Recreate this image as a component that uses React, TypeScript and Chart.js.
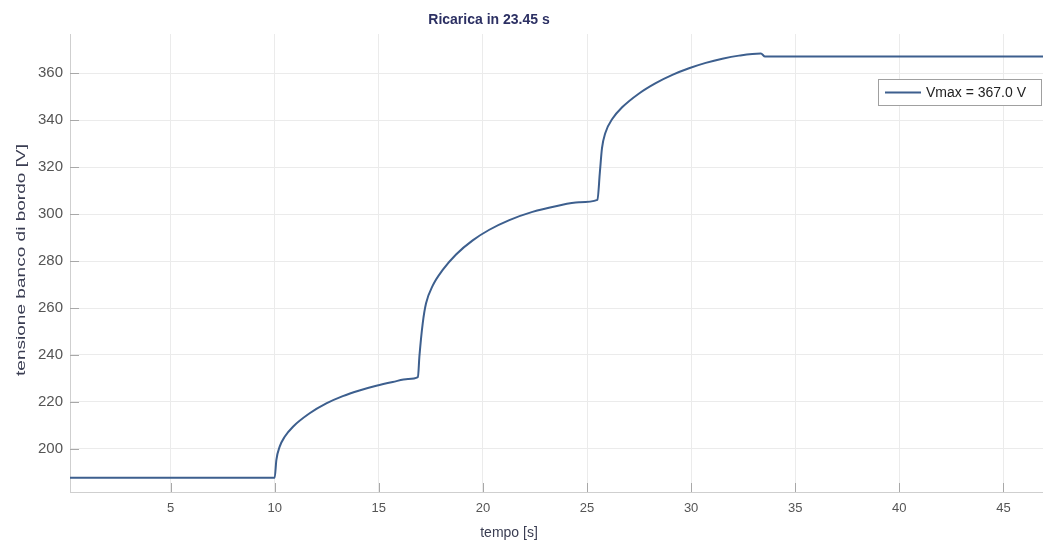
import React, { useEffect, useRef } from 'react';
import { Chart, registerables } from 'chart.js';

Chart.register(...registerables);

// ---- data ----
const timeS = [
  0, 10.0, 10.08, 10.24, 10.48, 10.88, 11.68, 12.48, 13.27, 14.07, 14.88, 15.67, 16.4, 16.88,
  16.95, 17.11, 17.27, 17.59, 18.07, 18.71, 19.51, 20.31, 21.27, 22.38, 23.5, 24.62, 25.5,
  25.62, 25.72, 25.88, 26.22, 26.7, 27.5, 28.3, 29.1, 29.9, 30.7, 31.5, 32.3, 33.35, 33.55, 46.9,
];
const voltageV = [
  187.8, 187.8, 195.3, 201.0, 205.2, 209.5, 215.2, 219.4, 222.5, 224.9, 226.9, 228.5, 229.8, 230.6,
  239.3, 253.5, 262.0, 269.5, 276.2, 282.8, 288.8, 293.3, 297.4, 300.9, 303.3, 305.0, 306.0,
  318.0, 328.0, 334.5, 340.5, 345.5, 351.3, 355.7, 359.2, 362.0, 364.3, 366.1, 367.4, 368.3, 367.0, 367.0,
];
const xTickValues = [5, 10, 15, 20, 25, 30, 35, 40, 45];
const yTickValues = [200, 220, 240, 260, 280, 300, 320, 340, 360];
const xRange = [0.17, 46.9];
const yRange = [181.7, 376.6];

const chartTitle = 'Ricarica in 23.45 s';
const xLabel = 'tempo [s]';
const yLabel = 'tensione banco di bordo [V]';
const legendLabel = 'Vmax = 367.0 V';

const FONT = '"Liberation Sans", Arial, Helvetica, sans-serif';
const LINE_COLOR = '#3d5f8e';

const decorPlugin = {
  id: 'decor',
  beforeDatasetsDraw(chart: any) {
    const { ctx, chartArea } = chart;
    const xs = chart.scales.x;
    const ys = chart.scales.y;
    ctx.save();
    ctx.strokeStyle = '#a8a8a8';
    ctx.lineWidth = 1;
    ctx.beginPath();
    yTickValues.forEach((v) => {
      const y = Math.round(ys.getPixelForValue(v)) + 0.5;
      ctx.moveTo(chartArea.left, y);
      ctx.lineTo(chartArea.left + 9, y);
    });
    xTickValues.forEach((t) => {
      const x = Math.round(xs.getPixelForValue(t)) + 0.5;
      ctx.moveTo(x, chartArea.bottom);
      ctx.lineTo(x, chartArea.bottom - 9);
    });
    ctx.stroke();
    ctx.restore();
  },
  afterDraw(chart: any) {
    const { ctx, chartArea } = chart;
    ctx.save();
    // title
    ctx.fillStyle = '#2c3063';
    ctx.font = `bold 14px ${FONT}`;
    ctx.textAlign = 'center';
    ctx.textBaseline = 'middle';
    ctx.fillText(chartTitle, 489, 20);

    // x axis label
    ctx.fillStyle = '#3a3d52';
    ctx.font = `14px ${FONT}`;
    ctx.fillText(xLabel, 509, 533);

    // y axis label (stretched along its length like the reference)
    ctx.save();
    ctx.translate(21, 260);
    ctx.rotate(-Math.PI / 2);
    ctx.font = `13px ${FONT}`;
    const w = ctx.measureText(yLabel).width;
    ctx.scale(232 / w, 1);
    ctx.fillText(yLabel, 0, 0);
    ctx.restore();

    // legend box inside the plot
    const bw = 164;
    const bh = 27;
    const bx = chartArea.right - bw - 1;
    const by = chartArea.top + 45;
    ctx.fillStyle = '#ffffff';
    ctx.fillRect(bx, by, bw, bh);
    ctx.strokeStyle = '#a0a0a0';
    ctx.lineWidth = 1;
    ctx.strokeRect(bx + 0.5, by + 0.5, bw - 1, bh - 1);
    ctx.strokeStyle = LINE_COLOR;
    ctx.lineWidth = 2;
    ctx.beginPath();
    ctx.moveTo(bx + 7, by + bh / 2);
    ctx.lineTo(bx + 43, by + bh / 2);
    ctx.stroke();
    ctx.fillStyle = '#222222';
    ctx.font = `14px ${FONT}`;
    ctx.textAlign = 'left';
    ctx.fillText(legendLabel, bx + 48, by + bh / 2 + 1);
    ctx.restore();
  },
};

export default function App() {
  const ref = useRef<HTMLCanvasElement | null>(null);

  useEffect(() => {
    if (!ref.current) return;
    const chart = new Chart(ref.current, {
      type: 'line',
      data: {
        datasets: [
          {
            label: legendLabel,
            data: timeS.map((t, i) => ({ x: t, y: voltageV[i] })),
            borderColor: LINE_COLOR,
            borderWidth: 2,
            pointRadius: 0,
            fill: false,
            cubicInterpolationMode: 'monotone',
          },
        ],
      },
      options: {
        responsive: false,
        animation: false,
        layout: { padding: { top: 34, left: 0, right: 0, bottom: 0 } },
        plugins: {
          legend: { display: false },
          title: { display: false },
          tooltip: { enabled: false },
        },
        scales: {
          x: {
            type: 'linear',
            min: xRange[0],
            max: xRange[1],
            afterBuildTicks: (axis: any) => {
              axis.ticks = xTickValues.map((v) => ({ value: v }));
            },
            afterFit: (scale: any) => {
              scale.height = 57;
            },
            grid: { color: '#ebebeb', drawTicks: false },
            border: { display: true, color: '#cfcfcf' },
            ticks: {
              padding: 9,
              color: '#555555',
              font: { family: FONT, size: 13 },
              maxRotation: 0,
              autoSkip: false,
            },
          },
          y: {
            type: 'linear',
            min: yRange[0],
            max: yRange[1],
            afterBuildTicks: (axis: any) => {
              axis.ticks = yTickValues.map((v) => ({ value: v }));
            },
            afterFit: (scale: any) => {
              scale.width = 70;
            },
            grid: { color: '#ebebeb', drawTicks: false },
            border: { display: true, color: '#cfcfcf' },
            ticks: {
              padding: 7,
              color: '#555555',
              font: { family: FONT, size: 15 },
              autoSkip: false,
            },
          },
        },
      },
      plugins: [decorPlugin],
    });
    return () => chart.destroy();
  }, []);

  return (
    <div style={{ position: 'absolute', left: 0, top: 0, width: 1043, height: 549, background: '#ffffff' }}>
      <canvas ref={ref} width={1043} height={549} style={{ display: 'block' }} />
    </div>
  );
}
